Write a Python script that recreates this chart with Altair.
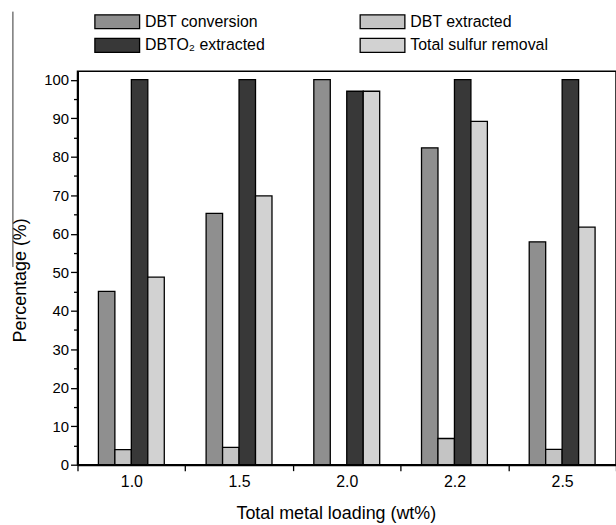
import altair as alt
import pandas as pd

categories = ["1.0", "1.5", "2.0", "2.2", "2.5"]
series = ["DBT conversion", "DBT extracted", "DBTO₂ extracted", "Total sulfur removal"]
dbt_conversion = [45.0, 65.3, 100.0, 82.3, 57.9]
dbt_extracted = [3.9, 4.5, 0.0, 6.8, 4.0]
dbto2_extracted = [100.0, 100.0, 97.0, 100.0, 100.0]
total_sulfur = [48.7, 69.8, 97.0, 89.2, 61.7]
fills = ["#8f8f8f", "#c4c4c4", "#383838", "#d2d2d2"]
y_ticks = list(range(0, 101, 5))
offset_domain = ["gap_left"] + series + ["gap_right"]

rows = []
for name, vals in zip(series, [dbt_conversion, dbt_extracted, dbto2_extracted, total_sulfur]):
    for c, v in zip(categories, vals):
        rows.append({"loading": c, "series": name, "value": v})
df = pd.DataFrame(rows)

FONT = "Liberation Sans"

bars = alt.Chart(df).mark_bar(stroke="black", strokeWidth=1.3).encode(
    x=alt.X("loading:N", sort=categories, title="Total metal loading (wt%)",
            scale=alt.Scale(paddingInner=0, paddingOuter=0),
            axis=alt.Axis(labelAngle=0, tickBand="extent", tickSize=6, tickWidth=1.3,
                          domainWidth=2, domainColor="black", tickColor="black",
                          labelFontSize=16, labelPadding=3, labelFont=FONT, labelColor="black",
                          titleFontSize=18, titleFont=FONT, titleFontWeight="normal",
                          titleColor="black", titleX=260, titleY=49, titleBaseline="middle")),
    xOffset=alt.XOffset("series:N",
                        scale=alt.Scale(domain=offset_domain, paddingInner=0, paddingOuter=0.27)),
    y=alt.Y("value:Q", title="Percentage (%)",
            scale=alt.Scale(domain=[0, 102.2], nice=False, zero=True),
            axis=alt.Axis(values=y_ticks, grid=False,
                          labelExpr="datum.value % 10 === 0 ? datum.label : ''",
                          tickSize={"condition": {"test": "datum.value % 10 === 0", "value": 7}, "value": 4},
                          tickWidth=1.3, domainWidth=2, domainColor="black", tickColor="black",
                          labelFontSize=15, labelPadding=2, labelFont=FONT, labelColor="black",
                          titleFontSize=18, titleFont=FONT, titleFontWeight="normal",
                          titleColor="black", titleX=-57, titleY=210, titleBaseline="middle")),
    color=alt.Color("series:N", sort=series,
                    scale=alt.Scale(domain=series, range=fills),
                    legend=alt.Legend(orient="none", legendX=29, legendY=-61, columns=2,
                                      direction="horizontal", title=None,
                                      symbolType="M-2.25,-0.7H2.25V0.7H-2.25Z", symbolSize=400,
                                      symbolStrokeColor="black", symbolStrokeWidth=1.3,
                                      symbolOpacity=1,
                                      labelFontSize=16, labelFont=FONT, labelColor="black",
                                      labelOffset=17, columnPadding=92, rowPadding=3,
                                      labelLimit=300)),
)

artifact = alt.Chart(pd.DataFrame({"a": [0]})).mark_rule(color="#333", strokeWidth=1, clip=False).encode(
    x=alt.value(-65), y=alt.value(-60), y2=alt.value(197)
)

chart = alt.layer(bars, artifact).properties(
    width=542, height=396,
    autosize=alt.AutoSizeParams(type="none"),
    padding={"left": 78, "top": 70, "right": 0, "bottom": 59},
    background="white",
).configure_view(stroke="black", strokeWidth=1.5)

chart.save("out.html", embed_options={"renderer": "svg", "actions": False})
